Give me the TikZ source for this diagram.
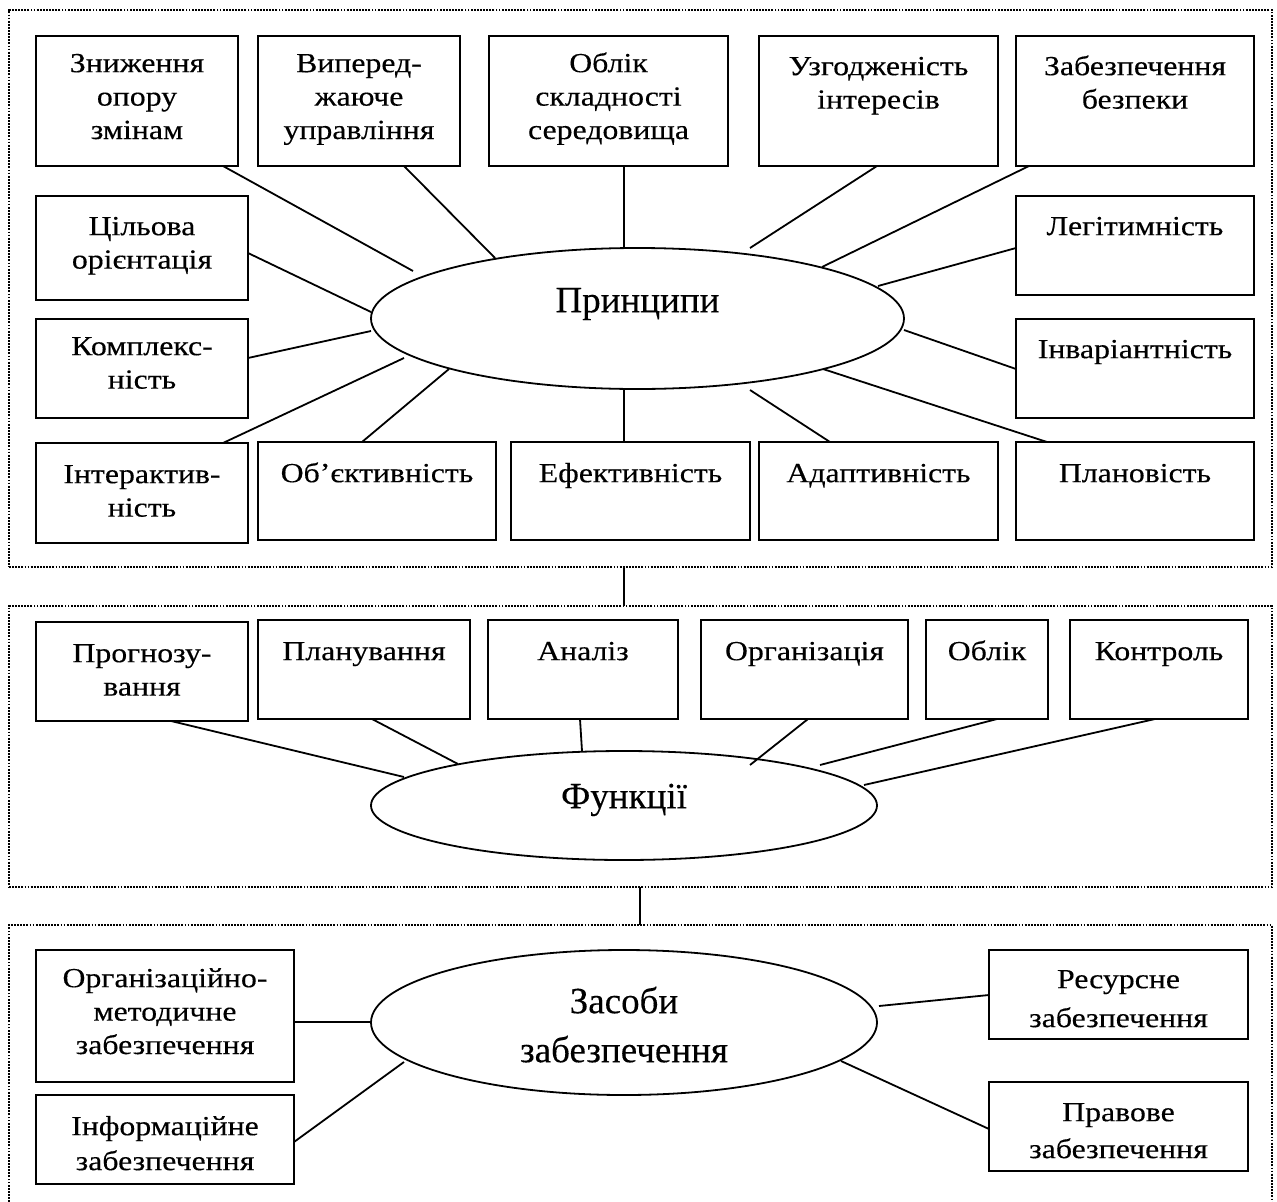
\documentclass[tikz,border=0pt]{standalone}
\usepackage{fontspec}
\setmainfont{Liberation Serif}[UprightFeatures={FakeBold=0.25}]
\usetikzlibrary{shapes.geometric}

% fixed-height struts so that the first baseline sits at a known depth
\newcommand\tstrut{\rule{0pt}{24pt}}
\newcommand\estrut{\rule{0pt}{32pt}}
% box captions are set slightly wide
\newcommand\widetext[1]{\scalebox{1.148}[1]{\begin{tabular}{@{}c@{}}\tstrut #1\end{tabular}}}

% #1 name, #2 #3 top-left, #4 #5 bottom-right, #6 depth of first baseline, #7 text
\newcommand\mkbox[7]{%
  \node[box, minimum width={#4-#2}, minimum height={#5-#3}] (#1) at ({(#2+#4)/2},{(#3+#5)/2}) {};
  \node[txt] (#1t) at ([yshift={24-#6}]#1.north) {\widetext{#7}};}

\begin{document}
\begin{tikzpicture}[x=1pt,y=-1pt,
  box/.style={draw, line width=1.8pt, inner sep=0pt, outer sep=0pt},
  fr/.style={draw, line width=2pt, dash pattern=on 1.8pt off 1.3pt, inner sep=0pt, outer sep=0pt},
  ell/.style={draw, ellipse, line width=1.8pt, inner sep=0pt, outer sep=0pt},
  txt/.style={anchor=north, inner sep=0pt, font=\fontsize{27.7}{33.4}\selectfont},
  etxt/.style={anchor=north, inner sep=0pt, align=center, font=\fontsize{37}{49}\selectfont},
  link/.style={line width=1.8pt}]

\useasboundingbox (0,0) rectangle (1277,1202);

% dotted group frames
\node[fr, minimum width=1263, minimum height=557] (f1) at (640.5,288.5) {};
\node[fr, minimum width=1263, minimum height=281] (f2) at (640.5,746.5) {};
\coordinate (f3n) at (640,925);
\draw[fr] (9,1202) -- (9,925) -- (f3n) -- (1272,925) -- (1272,1202);

% ---------- principles ----------
\node[ell, minimum width=533, minimum height=141] (pr) at (637.5,318.5) {};
\node[etxt] (prt) at ([yshift=38.5]pr.center) {\estrut Принципи};

\mkbox{b1}{36}{36}{238}{166}{36}{Зниження\\опору\\змінам}
\mkbox{b2}{258}{36}{460}{166}{36}{Випеpед-\\жаюче\\управління}
\mkbox{b3}{489}{36}{728}{166}{36}{Облік\\складності\\середовища}
\mkbox{b4}{759}{36}{998}{166}{39}{Узгодженість\\інтересів}
\mkbox{b5}{1016}{36}{1254}{166}{39}{Забезпечення\\безпеки}
\mkbox{b6}{36}{196}{248}{300}{39}{Цільова\\орієнтація}
\mkbox{b7}{1016}{196}{1254}{295}{39}{Легітимність}
\mkbox{b8}{36}{319}{248}{418}{36}{Комплекс-\\ність}
\mkbox{b9}{1016}{319}{1254}{418}{39}{Інваріантність}
\mkbox{b10}{36}{443}{248}{543}{40}{Інтерактив-\\ність}
\mkbox{b11}{258}{442}{496}{540}{40}{Об’єктивність}
\mkbox{b12}{511}{442}{750}{540}{40}{Ефективність}
\mkbox{b13}{759}{442}{998}{540}{40}{Адаптивність}
\mkbox{b14}{1016}{442}{1254}{540}{40}{Плановість}

\coordinate (p1) at (413,271);
\coordinate (p2) at (495,258);
\coordinate (p3) at (624,248);
\coordinate (p4) at (750,248);
\coordinate (p5) at (822,267);
\coordinate (p6) at (371,312);
\coordinate (p7) at (878,286);
\coordinate (p8) at (371,331);
\coordinate (p9) at (904,330);
\coordinate (p10) at (404,358);
\coordinate (p11) at (449,369);
\coordinate (p12) at (624,390);
\coordinate (p13) at (750,390);
\coordinate (p14) at (823,369);

\draw[link] ([xshift=187]b1.south west) -- (p1);
\draw[link] ([xshift=146]b2.south west) -- (p2);
\draw[link] ([xshift=135]b3.south west) -- (p3);
\draw[link] ([xshift=118]b4.south west) -- (p4);
\draw[link] ([xshift=13]b5.south west) -- (p5);
\draw[link] ([yshift=-57]b6.north east) -- (p6);
\draw[link] ([yshift=-52]b7.north west) -- (p7);
\draw[link] ([yshift=-39]b8.north east) -- (p8);
\draw[link] ([yshift=-50]b9.north west) -- (p9);
\draw[link] ([xshift=187]b10.north west) -- (p10);
\draw[link] ([xshift=104]b11.north west) -- (p11);
\draw[link] ([xshift=113]b12.north west) -- (p12);
\draw[link] ([xshift=71]b13.north west) -- (p13);
\draw[link] ([xshift=31]b14.north west) -- (p14);

% ---------- functions ----------
\node[ell, minimum width=506, minimum height=109] (fu) at (624,805.5) {};
\node[etxt] (fut) at ([yshift=29.5]fu.center) {\estrut Функції};

\mkbox{c1}{36}{622}{248}{721}{40}{Прогнозу-\\вання}
\mkbox{c2}{258}{620}{470}{719}{40}{Планування}
\mkbox{c3}{488}{620}{678}{719}{40}{Аналіз}
\mkbox{c4}{701}{620}{908}{719}{40}{Організація}
\mkbox{c5}{926}{620}{1048}{719}{40}{Облік}
\mkbox{c6}{1070}{620}{1248}{719}{40}{Контроль}

\coordinate (q1) at (404,777);
\coordinate (q2) at (458,764);
\coordinate (q3) at (582,751);
\coordinate (q4) at (750,765);
\coordinate (q5) at (820,765);
\coordinate (q6) at (864,785);

\draw[link] ([xshift=135]c1.south west) -- (q1);
\draw[link] ([xshift=114]c2.south west) -- (q2);
\draw[link] ([xshift=92]c3.south west) -- (q3);
\draw[link] ([xshift=107]c4.south west) -- (q4);
\draw[link] ([xshift=71]c5.south west) -- (q5);
\draw[link] ([xshift=85]c6.south west) -- (q6);

% ---------- means of support ----------
\node[ell, minimum width=506, minimum height=145] (za) at (624,1022.5) {};
\node[etxt] (zat) at ([yshift=41.5]za.center) {\estrut Засоби\\забезпечення};

\mkbox{d1}{36}{950}{294}{1082}{37}{Організаційно-\\методичне\\забезпечення}
\mkbox{d2}{36}{1095}{294}{1184}{40}{Інформаційне\\[1.5pt]забезпечення}
\mkbox{d3}{989}{950}{1248}{1039}{38}{Ресурсне\\[5.5pt]забезпечення}
\mkbox{d4}{989}{1082}{1248}{1171}{39}{Правове\\[3.5pt]забезпечення}

\coordinate (r1) at (371,1022);
\coordinate (r2) at (404,1062);
\coordinate (r3) at (879,1006);
\coordinate (r4) at (841,1061);

\draw[link] ([yshift=-72]d1.north east) -- (r1);
\draw[link] ([yshift=-47]d2.north east) -- (r2);
\draw[link] ([yshift=-45]d3.north west) -- (r3);
\draw[link] ([yshift=-47]d4.north west) -- (r4);

% links between the groups
\draw[link] (f1.south -| p3) -- (f2.north -| p3);
\draw[link] (f2.south -| f3n) -- (f3n);

\end{tikzpicture}
\end{document}
